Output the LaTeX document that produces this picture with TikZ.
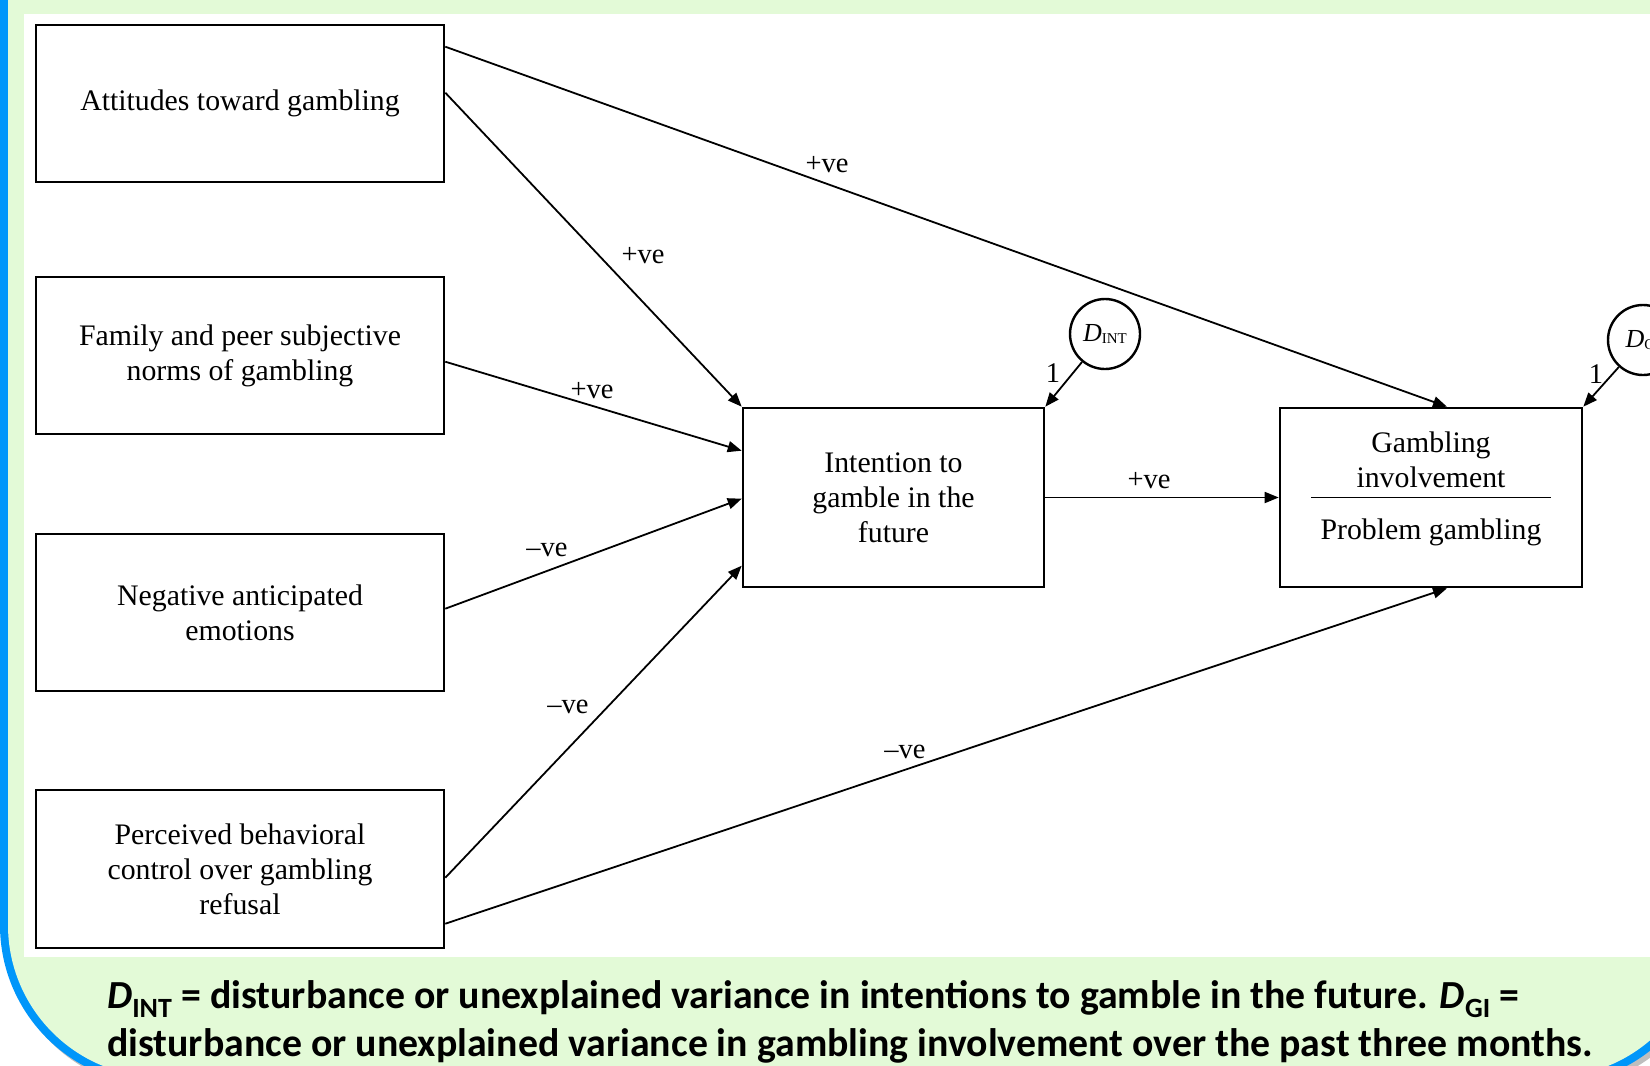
\documentclass[tikz,border=0pt]{standalone}
\usepackage{fontspec}
\setmainfont{Liberation Serif}
\newfontfamily\capfont{Carlito}
\usetikzlibrary{arrows.meta,calc}
\definecolor{bblue}{RGB}{0,150,250}
\definecolor{pgreen}{RGB}{227,250,215}
\definecolor{shadowgray}{RGB}{190,190,190}
\newcommand\bxfont{\fontsize{29.8}{35}\selectfont}
\newcommand\lbfont{\fontsize{28.5}{30}\selectfont}
\newcommand\dlabel[1]{{\fontsize{26}{26}\selectfont\itshape D}{\fontsize{15}{15}\selectfont\raisebox{-2pt}{#1}}}
\begin{document}
\begin{tikzpicture}[x=1pt,y=-1pt,
  box/.style={draw=black, line width=2.6pt, minimum width=408pt, minimum height=157pt, align=center, inner sep=0pt, font=\bxfont},
  conn/.style={line width=1.8pt, -{Triangle[length=14pt,width=11pt]}},
  lab/.style={font=\lbfont, inner sep=0pt},
  dist/.style={circle, draw=black, line width=2.4pt, minimum size=70pt, inner sep=0pt}]
\useasboundingbox (0,0) rectangle (1650,1066);
\clip (0,0) rectangle (1650,1066);
% background frame
\fill[white] (0,0) rectangle (1650,1066);
\fill[shadowgray, rounded corners=160pt] (4,-300) rectangle (1715,1089);
\fill[bblue, rounded corners=160pt] (0,-300) rectangle (1711,1085);
\fill[pgreen, rounded corners=152pt] (8,-300) rectangle (1703,1077);
\fill[white] (24,14) rectangle (1650,957);
% boxes
\node[box] (att) at (240,103.5) {Attitudes toward gambling};
\node[box] (fam) at (240,355.5) {Family and peer subjective\\norms of gambling};
\node[box] (neg) at (240,612.5) {Negative anticipated\\emotions};
\node[box, minimum height=158pt] (pbc) at (240,869) {Perceived behavioral\\control over gambling\\refusal};
\node[box, minimum width=301pt, minimum height=179pt] (int) at (893.5,497.5) {Intention to\\gamble in the\\future};
\node[box, minimum width=302pt, minimum height=179pt] (gi) at (1431,497.5) {};
\node[font=\bxfont, align=center, inner sep=0pt] (gitop) at (1431,460) {Gambling\\involvement};
\node[font=\bxfont, inner sep=0pt] (gibot) at (1431,532) {Problem gambling};
\draw[line width=1.6pt] ($(gi.center)+(-120,0)$) -- ($(gi.center)+(120,0)$);
% disturbances
\node[dist] (dint) at (1105,334) {\dlabel{INT}};
\node[dist] (dgi) at (1643,340) {\dlabel{GI}};
% connectors
\draw[conn] ($(att.north east)+(0,23)$) -- ($(gi.north)+(16,0)$);
\draw[conn] ($(att.north east)+(0,69)$) -- (int.north west);
\draw[conn] ($(fam.north east)+(0,86)$) -- ($(int.north west)+(0,44)$);
\draw[conn] ($(neg.north east)+(0,76)$) -- ($(int.north west)+(0,92)$);
\draw[conn] ($(pbc.north east)+(0,89)$) -- ($(int.north west)+(0,159)$);
\draw[conn] ($(pbc.north east)+(0,135)$) -- ($(gi.south)+(16,0)$);
\draw[conn] (int.east) -- (gi.west);
\draw[conn] (dint) -- (int.north east);
\draw[conn] (dgi) -- (gi.north east);
% labels
\node[lab] (l1) at (827,165) {+ve};
\node[lab] (l2) at (643,256) {+ve};
\node[lab] (l3) at (592,391) {+ve};
\node[lab] (l4) at (547,550) {–ve};
\node[lab] (l5) at (568,707) {–ve};
\node[lab] (l6) at (905,752) {–ve};
\node[lab] (l7) at (1149,481) {+ve};
\node[lab] (one1) at (1053,373) {1};
\node[lab] (one2) at (1596,374) {1};
% caption
\node[anchor=base west, inner sep=0pt, font=\capfont\bfseries\fontsize{39.8}{44}\selectfont] (cap1) at (107,1008) {\textit{D}\textsubscript{INT} = disturbance or unexplained variance in intentions to gamble in the future. \textit{D}\textsubscript{GI} =};
\node[anchor=base west, inner sep=0pt, font=\capfont\bfseries\fontsize{39.8}{44}\selectfont] (cap2) at (107,1056) {disturbance or unexplained variance in gambling involvement over the past three months.};
\end{tikzpicture}
\end{document}
